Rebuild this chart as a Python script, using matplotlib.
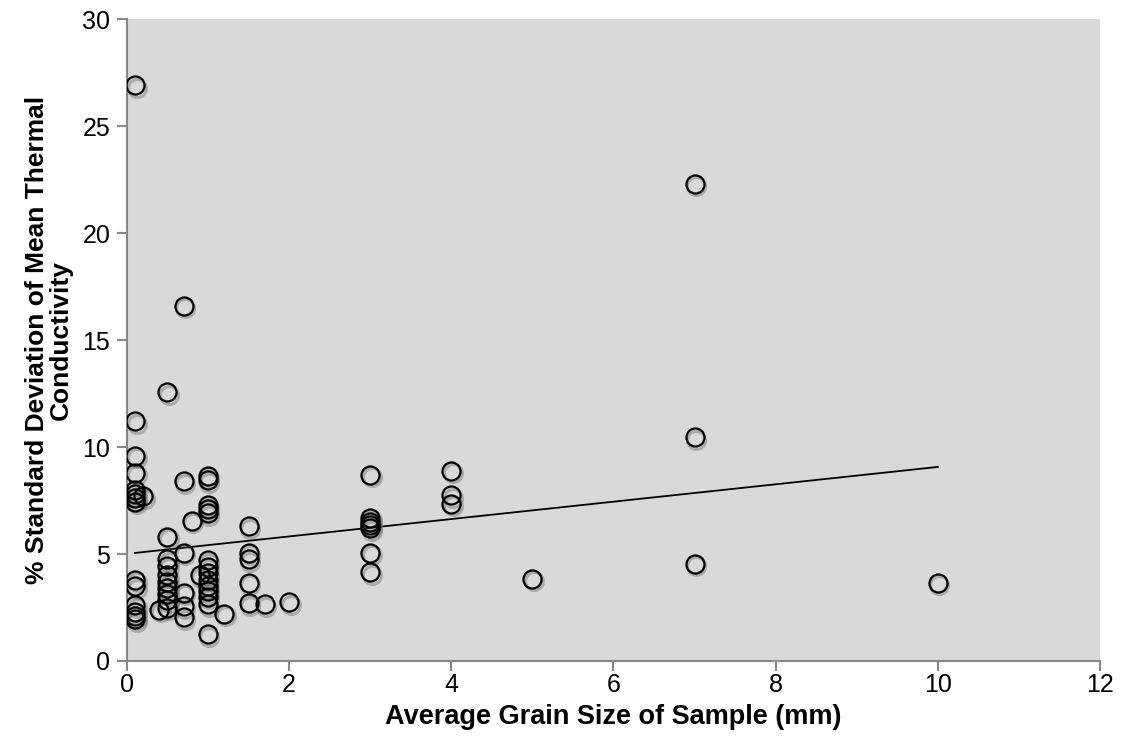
import numpy as np
import matplotlib
matplotlib.use("Agg")
import matplotlib.pyplot as plt
import matplotlib.transforms as mtransforms

# Grain size groups (mm) and the % std dev values observed at each
grain_01 = [26.9, 11.2, 9.6, 8.8, 8.0, 7.8, 7.6, 7.45, 3.8, 3.5, 2.6, 2.3, 2.1, 1.95]
grain_02 = [7.7]
grain_04 = [2.4]
grain_05 = [12.55, 5.8, 4.75, 4.45, 4.0, 3.7, 3.4, 3.15, 2.85, 2.5]
grain_07 = [16.6, 8.4, 5.05, 3.2, 2.55, 2.05]
grain_08 = [6.55]
grain_09 = [4.0]
grain_10 = [8.65, 8.45, 7.3, 7.1, 6.9, 4.7, 4.4, 4.1, 3.8, 3.5, 3.25, 3.0, 2.65, 1.25]
grain_12 = [2.2]
grain_15 = [6.3, 5.05, 4.75, 3.65, 2.7]
grain_17 = [2.65]
grain_20 = [2.75]
grain_30 = [8.7, 6.7, 6.5, 6.35, 6.2, 5.05, 4.15]
grain_40 = [8.9, 7.75, 7.35]
grain_50 = [3.85]
grain_70 = [22.3, 10.45, 4.55]
grain_100 = [3.65]

groups = {0.1: grain_01, 0.2: grain_02, 0.4: grain_04, 0.5: grain_05, 0.7: grain_07,
          0.8: grain_08, 0.9: grain_09, 1.0: grain_10, 1.2: grain_12, 1.5: grain_15,
          1.7: grain_17, 2.0: grain_20, 3.0: grain_30, 4.0: grain_40, 5.0: grain_50,
          7.0: grain_70, 10.0: grain_100}

# Linear trendline as drawn in the reference (endpoints)
trend_x = [0.1, 10.0]
trend_y = [5.05, 9.07]

x_ticks = [0, 2, 4, 6, 8, 10, 12]
y_ticks = [0, 5, 10, 15, 20, 25, 30]

x = np.concatenate([[g] * len(v) for g, v in groups.items()])
y = np.concatenate([v for v in groups.values()])

plt.rcParams['font.family'] = ['Liberation Sans', 'DejaVu Sans']

fig = plt.figure(figsize=(11.23, 7.49), dpi=100)
ax = fig.add_axes([0.113, 0.1175, 0.8665, 0.857])
ax.set_facecolor('#D9D9D9')

# soft drop shadow under the circles
shadow_tr = mtransforms.offset_copy(ax.transData, fig=fig, x=1.5, y=-2.5, units='dots')
ax.plot(x, y, linestyle='none', marker='o', markersize=13, markerfacecolor='none',
        markeredgecolor='#555555', markeredgewidth=2.2, alpha=0.35, zorder=2.5,
        transform=shadow_tr)
ax.plot(x, y, linestyle='none', marker='o', markersize=13, markerfacecolor='none',
        markeredgecolor='black', markeredgewidth=1.6, zorder=3)

ax.plot(trend_x, trend_y, color='black', linewidth=1.3, zorder=2)

ax.set_xlim(0, 12)
ax.set_ylim(0, 30)
ax.set_xticks(x_ticks)
ax.set_yticks(y_ticks)
ax.tick_params(axis='both', labelsize=18, colors='#888888', labelcolor='black',
               direction='out', length=7, width=1.5)
ax.tick_params(axis='x', pad=1.5)
ax.tick_params(axis='y', pad=5)
for s in ['top', 'right']:
    ax.spines[s].set_visible(False)
for s in ['left', 'bottom']:
    ax.spines[s].set_color('#888888')
    ax.spines[s].set_linewidth(1.5)

ax.set_xlabel('Average Grain Size of Sample (mm)', fontsize=19.5, fontweight='bold', labelpad=5)
ax.set_ylabel('% Standard Deviation of Mean Thermal\nConductivity', fontsize=19,
              fontweight='bold', labelpad=7, linespacing=1.0)

fig.savefig('out.png', dpi=100)
